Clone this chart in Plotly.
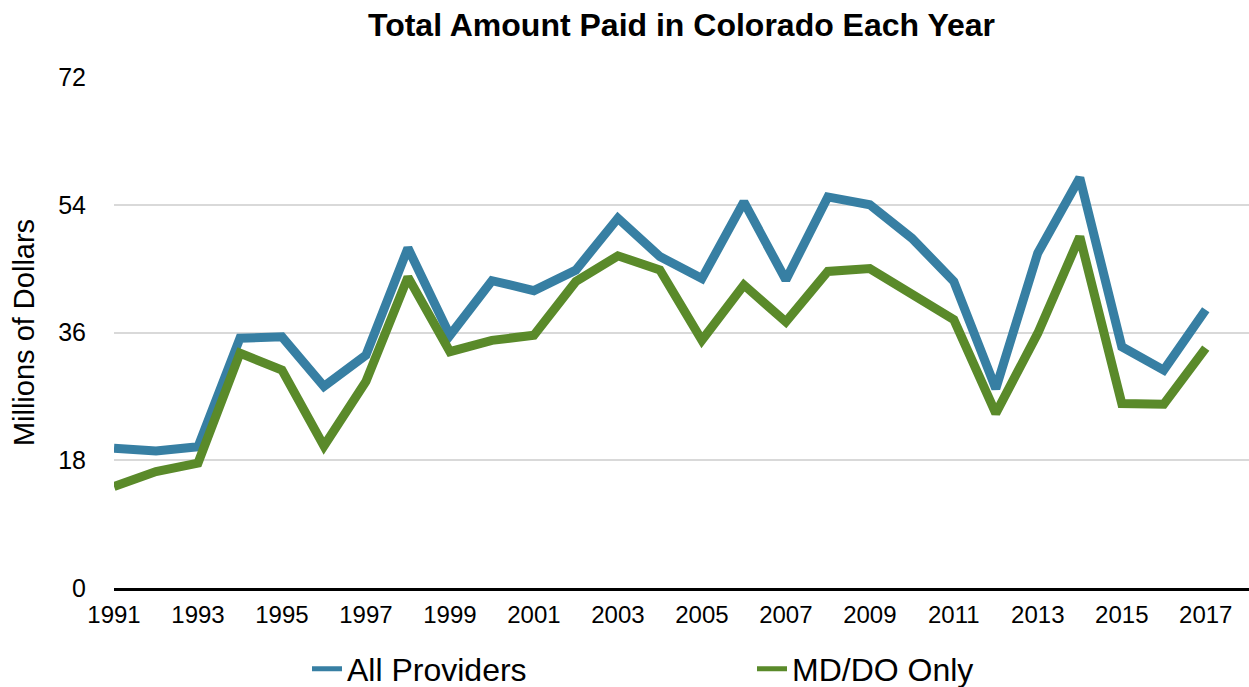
import plotly.graph_objects as go

years = list(range(1991, 2018))
all_providers = [19.7, 19.3, 19.9, 35.2, 35.4, 28.4, 32.8, 47.9, 35.6, 43.3,
                 41.9, 44.8, 52.1, 46.7, 43.6, 54.4, 43.4, 55.1, 54.0, 49.3,
                 43.2, 28.1, 47.2, 57.8, 34.0, 30.7, 39.2]
md_do_only = [14.3, 16.4, 17.6, 33.1, 30.7, 20.0, 29.1, 43.8, 33.3, 34.9,
              35.6, 43.2, 46.8, 44.8, 34.9, 42.7, 37.5, 44.6, 45.0, 41.5,
              37.8, 24.6, 35.9, 49.5, 26.0, 25.9, 33.8]
y_ticks = [0, 18, 36, 54, 72]
x_ticks = list(range(1991, 2018, 2))

BLUE = "#377FA3"
GREEN = "#5A8A2A"
FONT = "Liberation Sans"

fig = go.Figure()
fig.add_trace(go.Scatter(x=years, y=all_providers, mode="lines", name="All Providers",
                         line=dict(color=BLUE, width=9), showlegend=False))
fig.add_trace(go.Scatter(x=years, y=md_do_only, mode="lines", name="MD/DO Only",
                         line=dict(color=GREEN, width=9), showlegend=False))
# legend entries (thinner key lines as in the reference)
fig.add_trace(go.Scatter(x=[None], y=[None], mode="lines", name="All Providers",
                         line=dict(color=BLUE, width=5)))
fig.add_trace(go.Scatter(x=[None], y=[None], mode="lines", name="MD/DO Only",
                         line=dict(color=GREEN, width=5)))

fig.update_layout(
    width=1249, height=687,
    margin=dict(l=114, r=0, t=77, b=99, autoexpand=False),
    paper_bgcolor="white", plot_bgcolor="white",
    font=dict(family=FONT, color="black"),
    title=dict(text="<b>Total Amount Paid in Colorado Each Year</b>",
               x=0.5, xref="paper", xanchor="center",
               y=1 - 25 / 687, yref="container", yanchor="middle",
               font=dict(size=32, family=FONT, color="black")),
    showlegend=True,
    legend=dict(orientation="h", x=(307 - 114) / 1135, xanchor="left",
                y=1 - 669 / 687, yref="container", yanchor="middle",
                font=dict(size=32, family=FONT, color="black"),
                entrywidth=400, entrywidthmode="pixels",
                bgcolor="rgba(0,0,0,0)"),
)

fig.update_xaxes(
    range=[1991, 2018.03], tickmode="array", tickvals=x_ticks,
    ticktext=[str(v) for v in x_ticks],
    showgrid=False, zeroline=False,
    showline=True, linecolor="black", linewidth=3,
    ticks="outside", ticklen=3, tickcolor="rgba(0,0,0,0)",
    tickfont=dict(size=24, family=FONT, color="black"),
)
fig.update_yaxes(
    range=[0, 72], tickmode="array", tickvals=y_ticks,
    ticktext=[str(v) for v in y_ticks],
    showgrid=True, gridcolor="#d9d9d9", gridwidth=1.5,
    zeroline=False, showline=False,
    ticks="outside", ticklen=22, tickcolor="rgba(0,0,0,0)",
    tickfont=dict(size=25, family=FONT, color="black"),
    title=dict(text="Millions of Dollars", standoff=15,
               font=dict(size=29, family=FONT, color="black")),
)

fig.write_html(
    "out.html",
    config={"displayModeBar": False},
    post_script=(
        "document.documentElement.style.overflow='hidden';"
        "document.documentElement.style.margin='0px';"
        "document.body.style.margin='0px';"
        "document.body.style.overflow='hidden';"
        "document.body.style.height='687px';"
    ),
)
